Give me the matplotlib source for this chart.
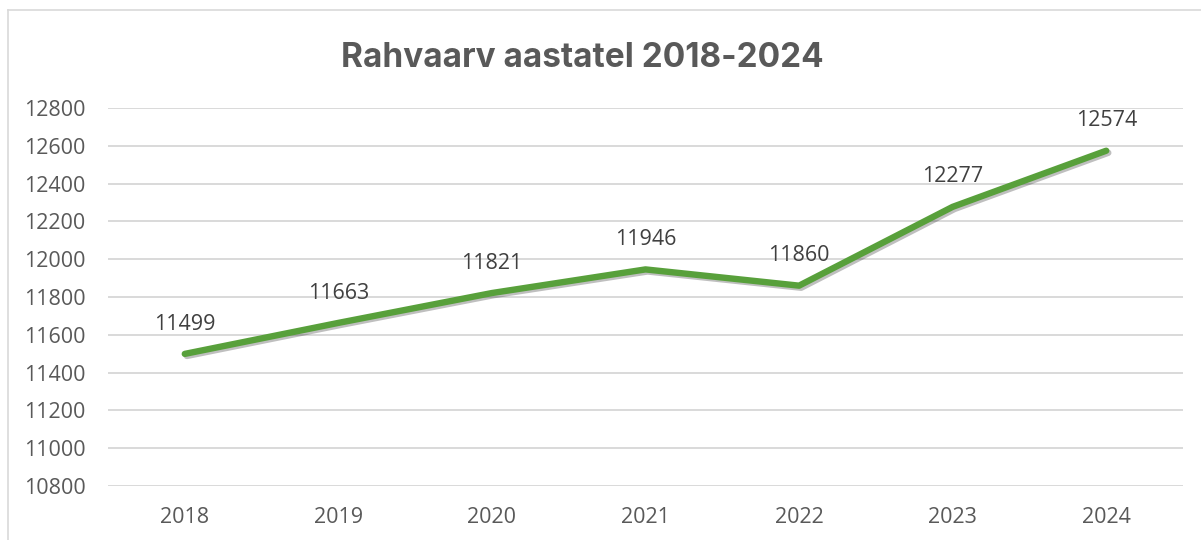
import matplotlib.pyplot as plt
import matplotlib.patheffects as pe
from matplotlib.lines import Line2D

# Andmed
aastad = ['2018', '2019', '2020', '2021', '2022', '2023', '2024']
rahvaarv = [11499, 11663, 11821, 11946, 11860, 12277, 12574]
y_ticks = [10800, 11000, 11200, 11400, 11600, 11800, 12000, 12200, 12400, 12600, 12800]

plt.rcParams['font.family'] = ['Open Sans', 'DejaVu Sans']
hall = '#595959'

fig = plt.figure(figsize=(12.01, 5.40), dpi=100)
ax = fig.add_axes([108 / 1201, 0.1, (1183 - 108) / 1201, 0.7])

x = list(range(len(aastad)))
ax.plot(x, rahvaarv, color='#58A03B', linewidth=4.6, solid_capstyle='round',
        solid_joinstyle='round', zorder=3,
        path_effects=[pe.SimpleLineShadow(offset=(1.5, -1.5), alpha=0.25, shadow_color='black'),
                      pe.Normal()])

# andmesildid punktide kohal
for xi, v in zip(x, rahvaarv):
    ax.annotate(str(v), (xi, v), xytext=(0, 21.5), textcoords='offset points',
                ha='center', va='center', fontsize=15.5, color='#404040')

ax.set_xlim(-0.5, len(aastad) - 0.5)
ax.set_ylim(10800, 12800)
ax.set_xticks(x)
ax.set_xticklabels(aastad)
ax.set_yticks(y_ticks)
ax.tick_params(axis='both', length=0, labelsize=15.5, labelcolor=hall)
ax.tick_params(axis='y', pad=16)
ax.tick_params(axis='x', pad=15)
ax.grid(True, axis='y', color='#D9D9D9', linewidth=1.4)
ax.set_axisbelow(True)
for s in ax.spines.values():
    s.set_visible(False)

fig.text(582 / 1201, 1 - 58 / 540, 'Rahvaarv aastatel 2018-2024', ha='center', va='center',
         fontsize=24, fontweight='bold', color=hall, family=['Inter', 'DejaVu Sans'])

# diagrammi ala raam (ülemine ja vasak serv)
fig.add_artist(Line2D([8 / 1201, 1], [1 - 10 / 540, 1 - 10 / 540], color='#D9D9D9', linewidth=1.2))
fig.add_artist(Line2D([8 / 1201, 8 / 1201], [0, 1 - 10 / 540], color='#D9D9D9', linewidth=1.2))

fig.savefig('out.png', dpi=100, facecolor='white')
